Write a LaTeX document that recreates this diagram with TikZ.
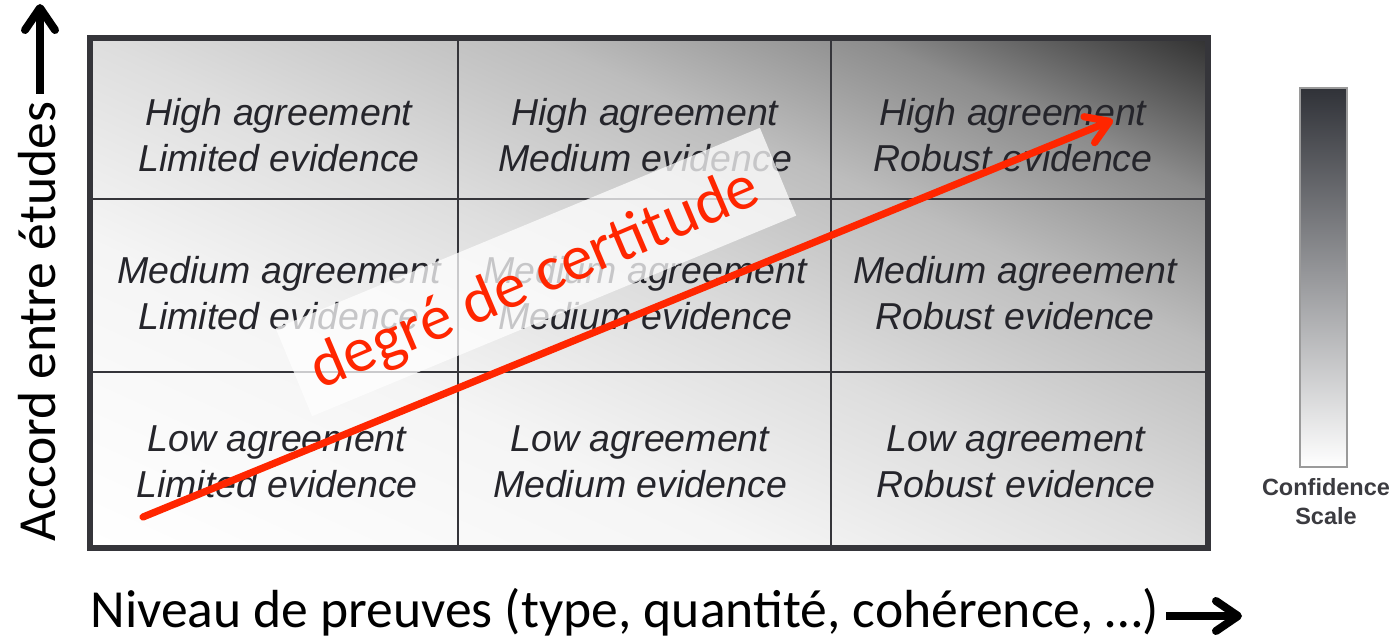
\documentclass[tikz,border=0pt]{standalone}
\usepackage{fontspec}
\setmainfont{Liberation Sans}
\newfontfamily\calibri{Carlito}
\usetikzlibrary{arrows.meta}
\usetikzlibrary{positioning}

\definecolor{gridline}{HTML}{35353A}
\definecolor{celltext}{HTML}{25252B}
\definecolor{certred}{RGB}{255,38,0}
\definecolor{scaletop}{HTML}{303238}
\definecolor{scaleframe}{HTML}{9A9A9A}
\definecolor{shadeA}{gray}{0.96}
\definecolor{shadeB}{gray}{0.87}
\definecolor{shadeC}{gray}{0.74}
\definecolor{shadeD}{gray}{0.55}
\definecolor{shadeE}{gray}{0.2}

% white in the lower left, dark in the upper right
\pgfdeclarehorizontalshading{confshade}{100bp}{color(0bp)=(white); color(14.64bp)=(white);
  color(35.9bp)=(shadeA); color(50bp)=(shadeB); color(64.1bp)=(shadeC);
  color(74.7bp)=(shadeD); color(85.36bp)=(shadeE); color(100bp)=(shadeE)}

\begin{document}
\begin{tikzpicture}[x={(0.5pt,0)}, y={(0,-0.5pt)},
    cell/.style={align=center, text=celltext, inner sep=0pt,
      font=\itshape\fontsize{18.75}{23}\selectfont},
    axislabel/.style={inner sep=0pt, font=\calibri\fontsize{26.8}{32}\selectfont},
    axisarrow/.style={line width=4pt, -{Straight Barb[length=11pt, width=15pt, round]}},
    banner/.style={fill=white, fill opacity=0.74, inner sep=0pt,
      minimum width=262pt, minimum height=47.5pt},
    certlabel/.style={text=certred, inner sep=0pt, font=\calibri\fontsize{32}{38}\selectfont},
    certarrow/.style={draw=certred, line width=3.6pt, line cap=round,
      -{Straight Barb[length=11pt, width=14pt, round]}}]
    \useasboundingbox (0,0) rectangle (1394,640);

    % the grid
    \begin{scope}[transform canvas={shift={(90,548)}, xscale=5.59, yscale=2.55}]
      \shade[shading=confshade, shading angle=45] (0pt,0pt) rectangle (100pt,100pt);
    \end{scope}
    \draw[gridline, line width=1.3pt] (458,38) -- (458,548) (831,38) -- (831,548)
      (90,199) -- (1208,199) (90,372) -- (1208,372);
    \draw[gridline, line width=2.6pt] (90,38) rectangle (1208,548);

    \node[cell] (hl) at (279,135) {High agreement\\Limited evidence};
    \node[cell] (hm) at (645,135) {High agreement\\Medium evidence};
    \node[cell] (hr) at (1013,135) {High agreement\\Robust evidence};
    \node[cell] (ml) at (279,293) {Medium agreement\\Limited evidence};
    \node[cell] (mm) at (645,293) {Medium agreement\\Medium evidence};
    \node[cell] (mr) at (1015,293) {Medium agreement\\Robust evidence};
    \node[cell] (ll) at (277,462) {Low agreement\\Limited evidence};
    \node[cell] (lm) at (640,462) {Low agreement\\Medium evidence};
    \node[cell] (lr) at (1016,462) {Low agreement\\Robust evidence};

    % degre de certitude
    \node[banner, rotate=22.5] (band) at (536,272) {};
    \node[certlabel, rotate=23, anchor=base] (cert) at (542,296) {degré de certitude};
    \coordinate (cstart) at (143,517);
    \coordinate (cend) at (1113,120);
    \draw[certarrow] (cstart) -- (cend);

    % confidence scale
    \shade[top color=scaletop, bottom color=white, draw=scaleframe, line width=1pt]
      (1300,88) rectangle (1347,467);
    \node[align=center, inner sep=0pt, text=celltext!90,
      font=\bfseries\fontsize{11.75}{14.5}\selectfont] (scale) at (1326,502) {Confidence\\Scale};

    % axes
    \node[axislabel, rotate=90, anchor=base] (ylab) at (55,322) {Accord entre études};
    \coordinate (ytail) at (40,94);
    \coordinate (ytip) at (40,4);
    \draw[axisarrow] (ytail) -- (ytip);

    \node[axislabel, anchor=base west] (xlab) at (90,628) {Niveau de preuves (type, quantité, cohérence, …)};
    \coordinate (xtail) at (1166,616);
    \coordinate (xtip) at (1242,616);
    \draw[axisarrow] (xtail) -- (xtip);
\end{tikzpicture}
\end{document}
